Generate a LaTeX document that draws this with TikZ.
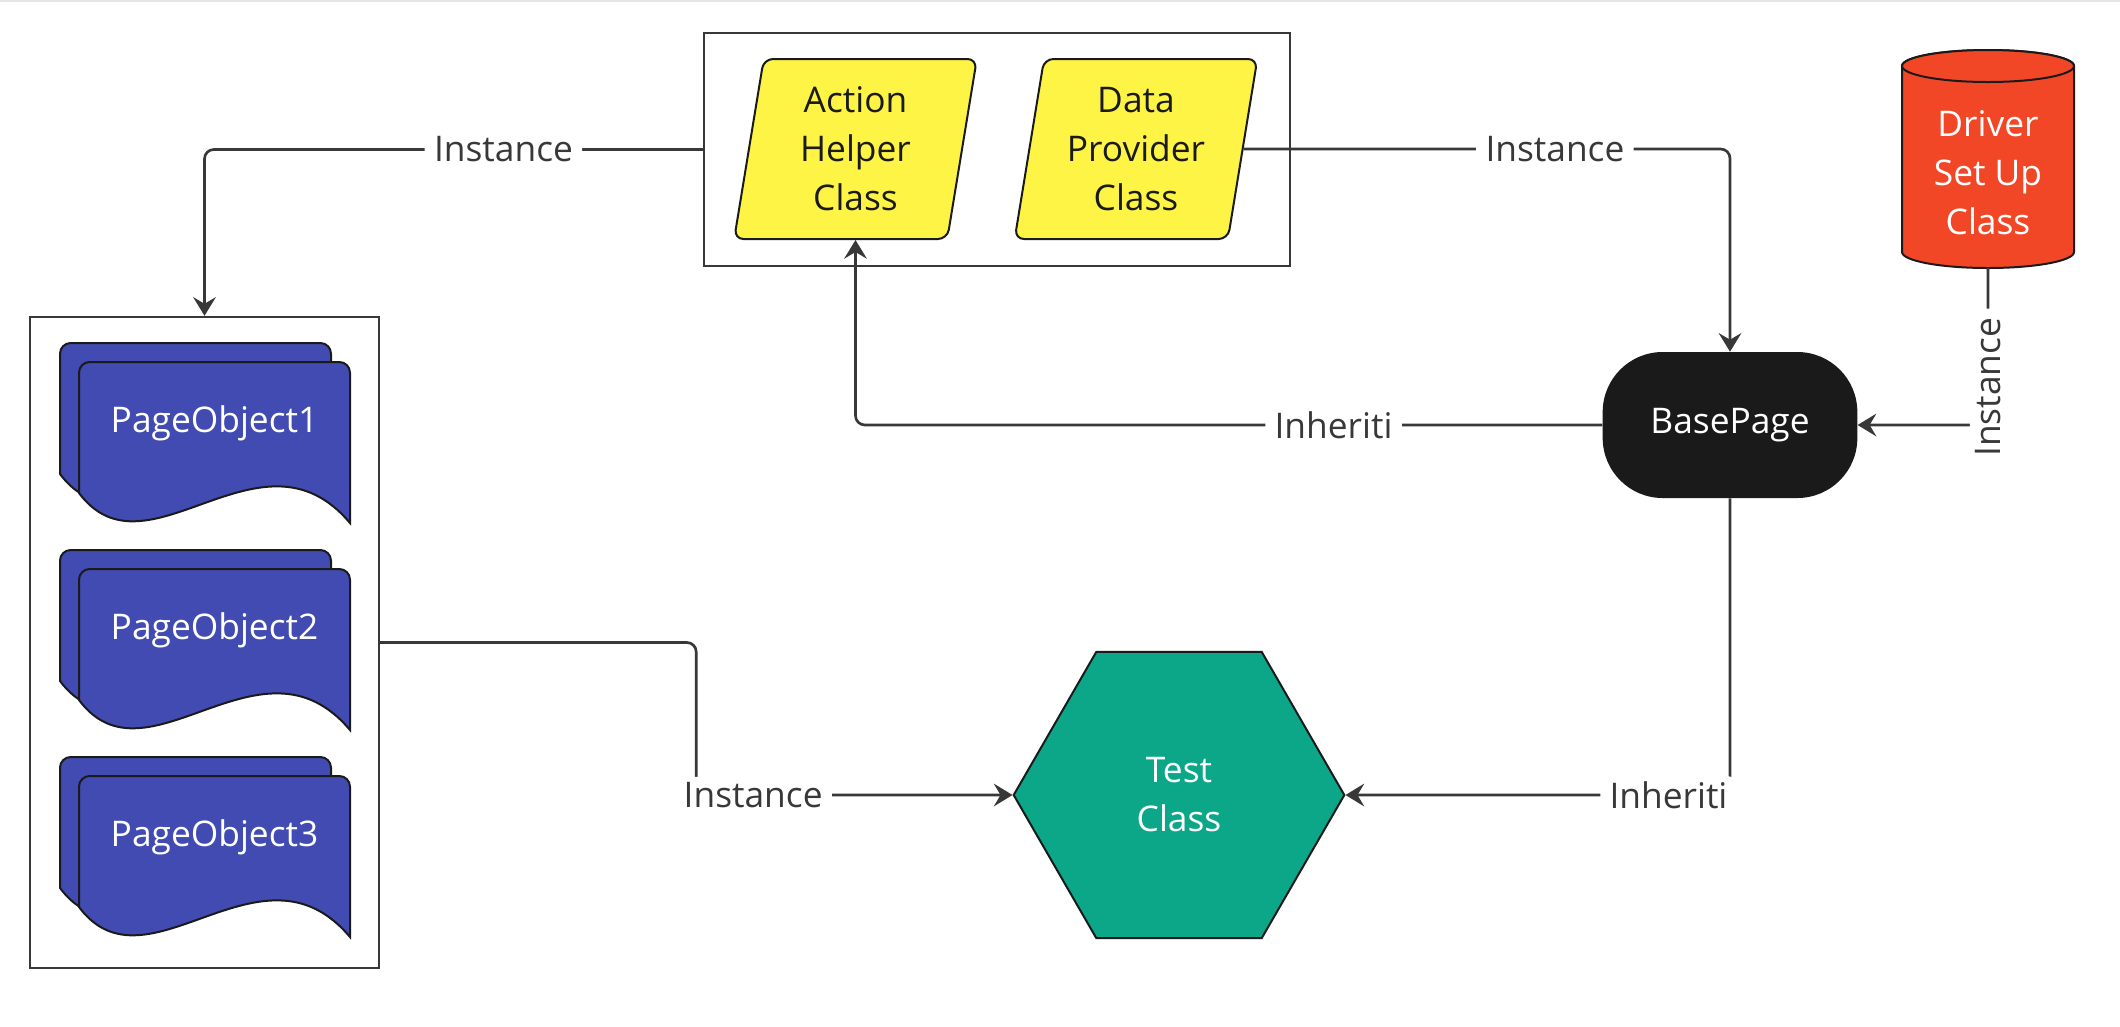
\documentclass[tikz,border=0pt]{standalone}
\usepackage{fontspec}
\setmainfont{Open Sans}
\usetikzlibrary{arrows.meta,shapes.geometric}

\definecolor{lineGray}{HTML}{383838}
\definecolor{inkBlack}{HTML}{1A1A1A}
\definecolor{helperYellow}{HTML}{FEF445}
\definecolor{pageBlue}{HTML}{414BB2}
\definecolor{testGreen}{HTML}{0CA789}
\definecolor{driverRed}{HTML}{F24726}

\tikzset{
    txt/.style={font=\fontsize{26.5}{36.8}\selectfont, align=center},
    frame/.style={draw=lineGray, line width=1.8pt, inner sep=0pt},
    helper/.style={txt, trapezium, trapezium left angle=77.5, trapezium right angle=102.5, trapezium stretches body, rounded corners=7pt, fill=helperYellow, draw=inkBlack, line width=1.5pt, minimum width=182pt, minimum height=135pt, text=inkBlack},
    sheetstyle/.style={fill=pageBlue, draw=inkBlack, line width=1.5pt},
    link/.style={draw=lineGray, line width=2pt, rounded corners=7pt, -{Stealth[length=14pt, width=17pt, inset=5pt]}},
    tag/.style={txt, fill=white, text=lineGray, inner xsep=7pt, inner ysep=4pt},
}

% one sheet of a page object stack, top left corner at (#1,#2)
\newcommand{\pagesheet}[2]{%
    \filldraw [sheetstyle] (#1,#2+131) [rounded corners=8pt] -- (#1,#2) -- (#1+271,#2) -- (#1+271,#2+100) [sharp corners] -- (#1+271,#2+161) .. controls (#1+182,#2+55) and (#1+68,#2+222) .. (#1,#2+131) -- cycle;%
}

\begin{document}
\begin{tikzpicture}[x=0.75pt, y=-0.75pt]
    \useasboundingbox (0,0) rectangle (2120,1026);
    \draw [gray!20, line width=1.5pt] (0,1) -- (2120,1);

    % groups
    \node [frame, minimum width=439.5pt, minimum height=174.75pt] (top) at (997,149.5) {};
    \node [frame, minimum width=261.75pt, minimum height=488.25pt] (pages) at (204.5,642.5) {};

    \node [helper] (AH) at (855.5,149) {Action\\Helper\\Class};
    \node [helper] (DP) at (1136,149) {Data\\Provider\\Class};

    % page objects
    \foreach \y/\n in {362/1, 569/2, 776/3} {
        \pagesheet{60}{\y-19}
        \pagesheet{79}{\y}
        \node [txt, text=white] (PO\n) at (214.5,\y+61) {PageObject\n};
    }

    \node [txt, text=white, fill=inkBlack, rounded corners=45pt, minimum width=191pt, minimum height=109.5pt] (BP) at (1730,425) {BasePage};

    % driver cylinder
    \path [fill=driverRed, draw=inkBlack, line width=1.5pt] (1902,66) -- (1902,252) arc [start angle=180, end angle=360, x radius=64.5pt, y radius=12pt] -- (2074,66) arc [start angle=0, end angle=180, x radius=64.5pt, y radius=12pt] -- cycle;
    \draw [fill=driverRed, draw=inkBlack, line width=1.5pt] (1988,66) ellipse [x radius=64.5pt, y radius=12pt];
    \node [txt, text=white] (DS) at (1988,173) {Driver\\Set Up\\Class};
    \coordinate (DSbot) at (1988,268);

    \node [txt, text=white, regular polygon, regular polygon sides=6, minimum size=248pt, inner sep=0pt, fill=testGreen, draw=inkBlack, line width=1.5pt] (TC) at (1179,795) {Test\\Class};

    \draw [link] (top.west) -| node [tag, pos=0.2] {Instance} (pages.north);
    \draw [link] (DP.east) -| node [tag, pos=0.32] {Instance} (BP.north);
    \draw [link] (BP.west) -| node [tag, pos=0.18] {Inheriti} (AH.center |- AH.south);
    \draw [link] (DSbot) |- node [tag, rotate=90, pos=0.38] {Instance} (BP.east);
    \draw [link] (pages.east) -- ++(316,0) |- node [tag, pos=0.59] {Instance} (TC.west);
    \draw [link] (BP.south) |- node [tag, pos=0.58] {Inheriti} (TC.east);
\end{tikzpicture}
\end{document}
